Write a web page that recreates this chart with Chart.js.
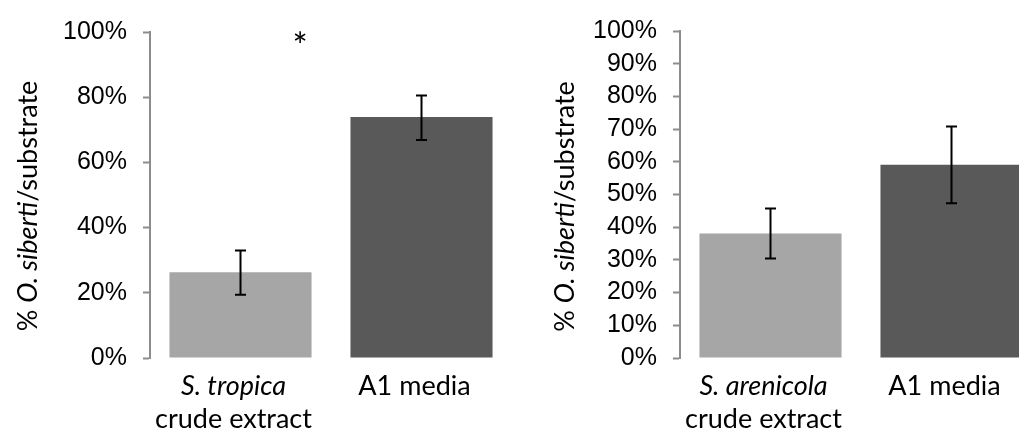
<!DOCTYPE html>
<html>
<head>
<meta charset="utf-8">
<script src="https://cdn.jsdelivr.net/npm/chart.js@4.4.1/dist/chart.umd.min.js"></script>
<style>
  html, body { margin: 0; padding: 0; background: #fff; width: 1019px; height: 433px; overflow: hidden; }
  #wrap { position: relative; width: 1019px; height: 433px; overflow: hidden; }
  canvas { position: absolute; top: 0; }
  #left { left: 0; }
  #right { left: 520px; }
</style>
</head>
<body>
<div id="wrap">
  <canvas id="left" width="520" height="433"></canvas>
  <canvas id="right" width="530" height="433"></canvas>
</div>
<script>
// Category labels: each is a list of lines, each line a list of [text, italic] runs
const leftCategories = [
  [[["S. tropica", true]], [["crude extract", false]]],
  [[["A1 media", false]]]
];
const rightCategories = [
  [[["S. arenicola", true]], [["crude extract", false]]],
  [[["A1 media", false]]]
];

// Mean fraction (%) and error-bar bounds (%)
const leftValues = [26.3, 73.9];
const leftErrLow = [19.4, 66.9];
const leftErrHigh = [33.0, 80.5];

const rightValues = [38.1, 59.1];
const rightErrLow = [30.4, 47.3];
const rightErrHigh = [45.7, 70.8];

const leftTickStep = 20;
const rightTickStep = 10;

// y-axis title runs
const yTitle = [["% ", false], ["O. siberti", true], ["/substrate", false]];

// significance marker for the left panel: [category position, value, text]
const leftMarker = [0.33, 97.9, "*"];

const barColors = ["#a6a6a6", "#595959"];
const textFont = "Lato, 'Open Sans', sans-serif";
const textSize = 27;

function runWidth(ctx, runs) {
  let w = 0;
  runs.forEach(([t, it]) => {
    ctx.font = (it ? "italic " : "") + textSize + "px " + textFont;
    w += ctx.measureText(t).width;
  });
  return w;
}
function drawRuns(ctx, runs, x, y) {
  // x is the centre of the run sequence
  let cx = x - runWidth(ctx, runs) / 2;
  runs.forEach(([t, it]) => {
    ctx.font = (it ? "italic " : "") + textSize + "px " + textFont;
    ctx.fillText(t, cx, y);
    cx += ctx.measureText(t).width;
  });
}

// Draws error bars, category labels, y title and an optional marker
const decorPlugin = {
  id: 'decor',
  afterDatasetsDraw(chart, args, opts) {
    const ctx = chart.ctx;
    const xs = chart.scales.x, ys = chart.scales.y;
    const meta = chart.getDatasetMeta(0);
    ctx.save();
    // error bars
    ctx.strokeStyle = "#000";
    ctx.lineWidth = 2;
    meta.data.forEach((bar, i) => {
      const x = bar.x;
      const yl = ys.getPixelForValue(opts.low[i]);
      const yh = ys.getPixelForValue(opts.high[i]);
      ctx.beginPath();
      ctx.moveTo(x, yl); ctx.lineTo(x, yh);
      ctx.moveTo(x - 5.5, yl); ctx.lineTo(x + 5.5, yl);
      ctx.moveTo(x - 5.5, yh); ctx.lineTo(x + 5.5, yh);
      ctx.stroke();
    });
    // category labels
    ctx.fillStyle = "#000";
    ctx.textBaseline = "alphabetic";
    ctx.textAlign = "left";
    opts.categories.forEach((lines, i) => {
      const x = xs.getPixelForValue(i) - 7;
      lines.forEach((runs, j) => {
        drawRuns(ctx, runs, x, ys.bottom + 37 + j * 33);
      });
    });
    // y-axis title, rotated
    const midY = (ys.top + ys.bottom) / 2 + opts.titleShift;
    ctx.translate(opts.titleX, midY);
    ctx.rotate(-Math.PI / 2);
    ctx.textBaseline = "middle";
    drawRuns(ctx, yTitle, 0, 0);
    ctx.restore();
    // marker
    if (opts.marker) {
      ctx.save();
      ctx.fillStyle = "#000";
      ctx.font = "36px " + textFont;
      ctx.textAlign = "center";
      ctx.textBaseline = "middle";
      const mx = xs.getPixelForValue(opts.marker[0]);
      const my = ys.getPixelForValue(opts.marker[1]);
      ctx.fillText(opts.marker[2], mx, my + 9);
      ctx.restore();
    }
  }
};

function makeChart(id, values, low, high, cats, step, axisWidth, padTop, marker, titleX, titleShift) {
  return new Chart(document.getElementById(id), {
    type: 'bar',
    data: {
      labels: cats.map((c, i) => String(i)),
      datasets: [{
        data: values,
        backgroundColor: barColors,
        borderWidth: 0,
        categoryPercentage: 1,
        barPercentage: 0.785
      }]
    },
    options: {
      responsive: false,
      animation: false,
      events: [],
      layout: { padding: { left: 0, top: padTop, bottom: 75, right: 8 } },
      plugins: {
        legend: { display: false },
        tooltip: { enabled: false },
        decor: { low, high, categories: cats, marker, titleX, titleShift }
      },
      scales: {
        x: { display: false },
        y: {
          min: 0, max: 100,
          afterFit(scale) { scale.width = axisWidth; },
          border: { display: true, color: "#8c8c8c", width: 2 },
          grid: { display: true, drawOnChartArea: false, drawTicks: true, tickLength: 7, tickWidth: 2, color: "#8c8c8c" },
          ticks: {
            stepSize: step,
            padding: 16,
            color: "#000",
            font: { family: "'Liberation Sans', Arial, sans-serif", size: 25 },
            callback: (v) => v + "%"
          }
        }
      }
    },
    plugins: [decorPlugin]
  });
}

makeChart('left', leftValues, leftErrLow, leftErrHigh, leftCategories, leftTickStep, 150, 32, leftMarker, 28, 11);
makeChart('right', rightValues, rightErrLow, rightErrHigh, rightCategories, rightTickStep, 160, 24, null, 45, 12);
</script>
</body>
</html>
